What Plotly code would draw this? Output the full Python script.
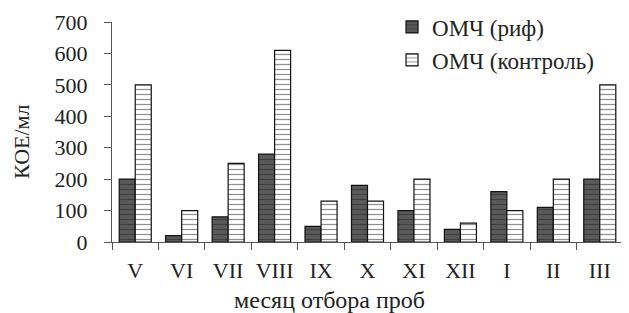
import plotly.graph_objects as go

months = ["V", "VI", "VII", "VIII", "IX", "X", "XI", "XII", "I", "II", "III"]
reef = [200, 20, 80, 280, 50, 180, 100, 40, 160, 110, 200]
control = [500, 100, 250, 610, 130, 130, 200, 60, 100, 200, 500]

font_family = "Liberation Serif"
txt = dict(family=font_family, size=22, color="#222")
legtxt = dict(family=font_family, size=23, color="#222")
titletxt = dict(family=font_family, size=24, color="#222")

fig = go.Figure()
fig.add_trace(go.Bar(
    x=months, y=reef, name="ОМЧ (риф)",
    marker=dict(color="#505050", line=dict(color="#111", width=1.2),
                pattern=dict(shape="-", size=5, fgcolor="#222", bgcolor="#5a5a5a", solidity=0.25)),
))
fig.add_trace(go.Bar(
    x=months, y=control, name="ОМЧ (контроль)",
    marker=dict(color="white", line=dict(color="#111", width=1.2),
                pattern=dict(shape="-", size=5, fgcolor="#222", bgcolor="white", solidity=0.25)),
))

fig.update_layout(
    width=629, height=313,
    margin=dict(l=104, r=14, t=14, b=79, autoexpand=False),
    paper_bgcolor="white", plot_bgcolor="white",
    barmode="group", bargap=0.31, bargroupgap=0,
    font=txt,
    showlegend=True,
    legend=dict(x=0.548, y=1.075, xanchor="left", yanchor="top",
                bgcolor="rgba(0,0,0,0)", font=legtxt,
                itemwidth=30, tracegroupgap=0),
    xaxis=dict(showline=True, linecolor="#555", linewidth=1.2,
               ticks="outside", tickson="boundaries", ticklen=7, tickcolor="#555",
               tickfont=txt, ticklabelstandoff=8, tickangle=0,
               showgrid=False),
    yaxis=dict(range=[0, 700], dtick=100, showline=True, linecolor="#555", linewidth=1.2,
               ticks="outside", ticklen=7, tickcolor="#555", showgrid=False,
               zeroline=False, tickfont=txt, ticklabelstandoff=12),
    annotations=[
        dict(text="месяц отбора проб", xref="paper", yref="paper",
             x=(329 - 112) / 511, y=-(300 - 242) / 220, xanchor="center", yanchor="middle",
             showarrow=False, font=titletxt),
        dict(text="КОЕ/мл", xref="paper", yref="paper", textangle=-90,
             x=-(112 - 21) / 511, y=(242 - 142) / 220, xanchor="center", yanchor="middle",
             showarrow=False, font=txt),
    ],
)

fig.write_html("out.html")
